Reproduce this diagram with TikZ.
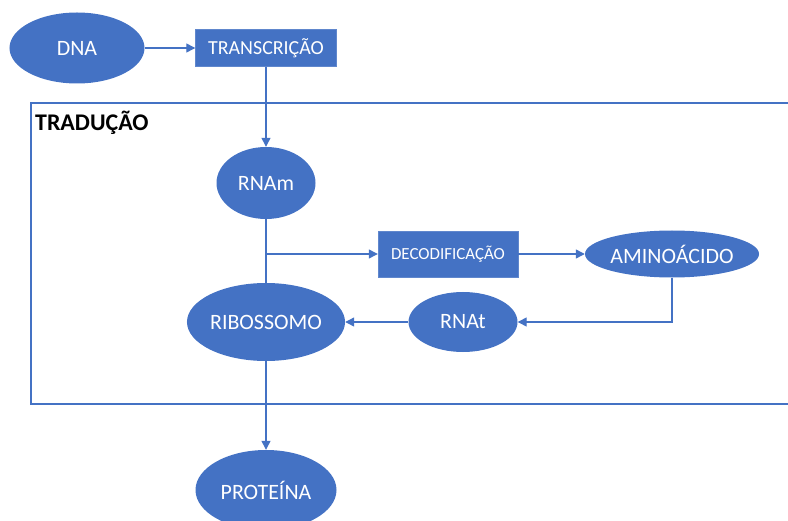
\documentclass[tikz,border=0pt]{standalone}
\usepackage{fontspec}
\setmainfont{Carlito}
\usetikzlibrary{shapes.geometric,arrows.meta}
\definecolor{office}{HTML}{4472C4}

\begin{document}
\begin{tikzpicture}[x=1bp,y=-1bp,
    oval/.style={ellipse,fill=office,text=white,inner sep=0pt,font=\fontsize{22}{26}\selectfont},
    box/.style={rectangle,fill=office,draw=office!85!white,text=white,inner sep=0pt},
    link/.style={draw=office,line width=1.3bp},
    tip/.style={link,-{Triangle[length=9bp,width=9bp]}}]
    \useasboundingbox (0,0) rectangle (788,521);
    \clip (0,0) rectangle (788,521);
    \def\ovals{dna/77/48/135/71/DNA,rnam/266/183/99/72/RNAm,amino/672/254/165/47/AMINOÁCIDO,rnat/463/322/109/60/RNAt,ribo/266/322/147/78/RIBOSSOMO,prot/266/490/141/80/PROTEÍNA}
    \foreach \nm/\cx/\cy/\w/\h/\txt in \ovals {\node[oval,minimum width=\w bp,minimum height=\h bp] (\nm) at (\cx,\cy) {\txt};}
    \node[box,minimum width=141bp,minimum height=37bp,font=\fontsize{20}{24}\selectfont] (transc) at (266,48) {TRANSCRIÇÃO};
    \node[box,minimum width=140bp,minimum height=46bp,font=\fontsize{17}{20}\selectfont] (decod) at (448,254) {DECODIFICAÇÃO};
    \draw[office,line width=1.3bp] (800,103) -| (31,404) -- (800,404);
    \node[anchor=west,inner sep=0pt,font=\fontsize{24}{28}\selectfont\bfseries] (trad) at (35,123) {TRADUÇÃO};
    \coordinate (fork) at (266,254);
    \coordinate (bend) at (672,322);
    \draw[tip] (dna) -- (transc);
    \draw[tip] (transc) -- (rnam);
    \draw[link] (rnam) -- (ribo);
    \draw[tip] (fork) -- (decod);
    \draw[tip] (decod) -- (amino);
    \draw[tip] (amino) -- (bend) -- (rnat);
    \draw[tip] (rnat) -- (ribo);
    \draw[tip] (ribo) -- (prot);
\end{tikzpicture}
\end{document}
